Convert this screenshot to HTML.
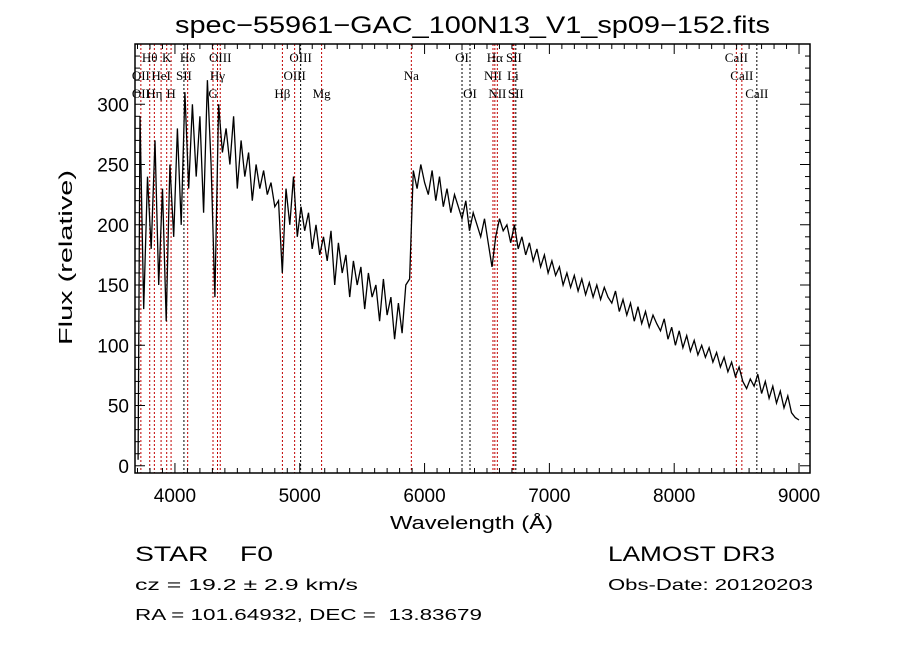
<!DOCTYPE html>
<html><head><meta charset="utf-8"><style>
body{margin:0;background:#fff;}
svg{display:block;font-family:"Liberation Sans",sans-serif;}
.lbl{font-family:"Liberation Serif",serif;font-size:13px;}
</style></head><body>
<svg id="chart" width="900" height="649" viewBox="0 0 900 649">
<rect width="900" height="649" fill="#fff"/>
<text x="175" y="33" font-size="24" textLength="595" lengthAdjust="spacingAndGlyphs">spec−55961−GAC_100N13_V1_sp09−152.fits</text>
<g id="lines"></g>
<g id="spec"></g>
<g id="axes"></g>
<text x="390" y="529" font-size="18" textLength="163" lengthAdjust="spacingAndGlyphs">Wavelength (Å)</text>
<text transform="translate(72,345) rotate(-90)" font-size="18" textLength="175" lengthAdjust="spacingAndGlyphs">Flux (relative)</text>
<text x="135" y="561" font-size="21" xml:space="preserve" textLength="138" lengthAdjust="spacingAndGlyphs">STAR    F0</text>
<text x="135" y="590" font-size="16" textLength="223" lengthAdjust="spacingAndGlyphs">cz = 19.2 ± 2.9 km/s</text>
<text x="135" y="620" font-size="16" xml:space="preserve" textLength="347" lengthAdjust="spacingAndGlyphs">RA = 101.64932, DEC =  13.83679</text>
<text x="608" y="561" font-size="21" textLength="167" lengthAdjust="spacingAndGlyphs">LAMOST DR3</text>
<text x="608" y="590" font-size="16" textLength="205" lengthAdjust="spacingAndGlyphs">Obs-Date: 20120203</text>
</svg>
<script>
const wavelengths=[3705,3720,3750,3780,3810,3840,3870,3900,3930,3960,3990,4020,4050,4080,4110,4140,4170,4200,4230,4260,4290,4320,4350,4380,4410,4440,4470,4500,4530,4560,4590,4620,4650,4680,4710,4740,4770,4800,4830,4860,4890,4920,4950,4980,5010,5040,5070,5100,5130,5160,5190,5220,5250,5280,5310,5340,5370,5400,5430,5460,5490,5520,5550,5580,5610,5640,5670,5700,5730,5760,5790,5820,5850,5880,5910,5940,5970,6000,6030,6060,6090,6120,6150,6180,6210,6240,6270,6300,6330,6360,6390,6420,6450,6480,6510,6540,6570,6600,6630,6660,6690,6720,6750,6780,6810,6840,6870,6900,6930,6960,6990,7020,7050,7080,7110,7140,7170,7200,7230,7260,7290,7320,7350,7380,7410,7440,7470,7500,7530,7560,7590,7620,7650,7680,7710,7740,7770,7800,7830,7860,7890,7920,7950,7980,8010,8040,8070,8100,8130,8160,8190,8220,8250,8280,8310,8340,8370,8400,8430,8460,8490,8520,8550,8580,8610,8640,8670,8700,8730,8760,8790,8820,8850,8880,8910,8940,8970,9000];
const flux=[5,290,130,240,180,270,150,230,120,250,190,280,200,310,230,300,240,290,210,320,250,140,300,260,280,250,290,230,270,240,260,220,250,230,245,225,235,215,220,160,230,200,240,190,215,195,210,180,200,175,190,170,195,150,185,160,175,140,170,150,165,130,160,140,150,120,155,125,140,105,135,110,150,155,245,230,250,235,225,245,220,240,215,230,210,225,215,205,220,195,210,200,190,205,185,165,190,205,195,200,185,200,180,190,175,185,170,180,165,175,160,170,158,165,150,160,148,158,145,155,142,152,140,150,138,148,140,135,145,128,138,125,135,120,132,118,128,115,125,118,112,122,105,115,100,112,98,108,95,104,92,100,90,98,86,94,82,90,78,86,74,82,70,64,72,66,76,60,70,56,66,52,62,48,58,44,40,38];
const xTicks=[4000,5000,6000,7000,8000,9000];
const yTicks=[0,50,100,150,200,250,300];
const lineWaves=[3727,3798,3835,3889,3934,3969,4072,4102,4305,4341,4363,4861,4959,5007,5175,5894,6300,6364,6548,6563,6583,6708,6716,6731,8498,8542,8662];
const lineBlack=[0,0,0,0,0,0,1,0,0,0,0,0,0,1,0,0,1,1,0,0,0,0,0,1,0,0,1];
const labelNames=["Hθ","K","Hδ","OIII","OIII","OI","Hα","SII","CaII","OII","HeI","SII","Hγ","OIII","Na","NII","Li","CaII","OII","Hη","H","G","Hβ","Mg","OI","NII","SII","CaII"];
const labelWaves=[3798,3934,4102,4363,5007,6300,6563,6716,8498,3727,3889,4072,4341,4959,5894,6548,6708,8542,3727,3835,3969,4305,4861,5175,6364,6583,6731,8662];
const labelRows=[0,0,0,0,0,0,0,0,0,1,1,1,1,1,1,1,1,1,2,2,2,2,2,2,2,2,2,2];

const X0=135,X1=810,Y0=473,Y1=44;
const xmin=3680,xmax=9088,ymin=-6,ymax=350;
const sx=w=>X0+(w-xmin)/(xmax-xmin)*(X1-X0);
const sy=v=>Y0-(v-ymin)/(ymax-ymin)*(Y0-Y1);
const NS="http://www.w3.org/2000/svg";
function mk(tag,attrs,parent){const e=document.createElementNS(NS,tag);for(const k in attrs)e.setAttribute(k,attrs[k]);parent.appendChild(e);return e;}
const gL=document.getElementById('lines'),gS=document.getElementById('spec'),gA=document.getElementById('axes');
lineWaves.forEach((w,i)=>{
 const l=mk('line',{x1:sx(w),x2:sx(w),y1:Y1,y2:Y0,stroke:lineBlack[i]?'#000':'#c00000','stroke-width':1,'stroke-dasharray':'2,2'},gL);
 
 
});
const rowY=[62,80,98];
labelNames.forEach((n,i)=>{
 const t=mk('text',{x:sx(labelWaves[i]),y:rowY[labelRows[i]],'text-anchor':'middle',class:'lbl'},gL);
 t.textContent=n;
 
 
});
const p=mk('polyline',{points:wavelengths.map((w,i)=>sx(w).toFixed(1)+','+sy(flux[i]).toFixed(1)).join(' '),fill:'none',stroke:'#000','stroke-width':1.3},gS);


const fr=mk('rect',{x:X0,y:Y1,width:X1-X0,height:Y0-Y1,fill:'none',stroke:'#000','stroke-width':1.5},gA);


for(let w=3700;w<=xmax;w+=100){const maj=w%1000===0,L=maj?10:5;
 mk('line',{x1:sx(w),x2:sx(w),y1:Y0,y2:Y0-L,stroke:'#000'},gA);
 mk('line',{x1:sx(w),x2:sx(w),y1:Y1,y2:Y1+L,stroke:'#000'},gA);}
xTicks.forEach(w=>{const t=mk('text',{x:sx(w),y:Y0+29,'text-anchor':'middle','font-size':19},gA);t.textContent=w;
 
 });
for(let v=0;v<=ymax;v+=10){const maj=v%50===0,L=maj?10:5;
 mk('line',{x1:X0,x2:X0+L,y1:sy(v),y2:sy(v),stroke:'#000'},gA);
 mk('line',{x1:X1,x2:X1-L,y1:sy(v),y2:sy(v),stroke:'#000'},gA);}
yTicks.forEach(v=>{const t=mk('text',{x:X0-6,y:sy(v)+7,'text-anchor':'end','font-size':19},gA);t.textContent=v;
 
 });
</script>
</body></html>
